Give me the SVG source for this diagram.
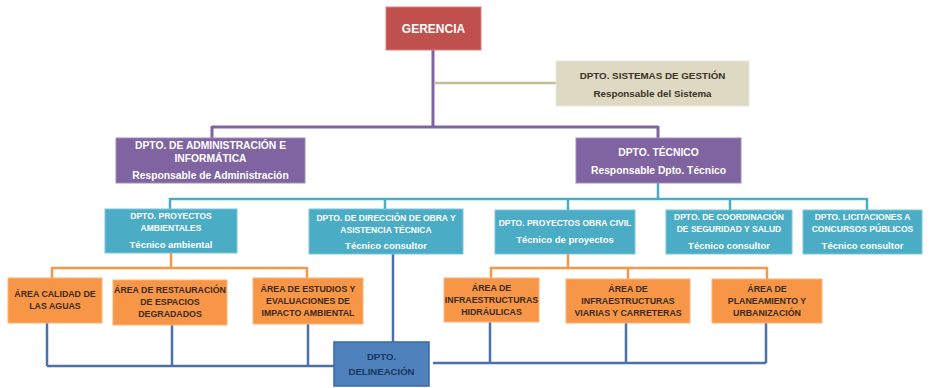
<svg xmlns="http://www.w3.org/2000/svg" width="931" height="388" viewBox="0 0 931 388">
  <style>
    text { font-family: "Liberation Sans", Arial, sans-serif; font-weight: bold; text-anchor: middle; }
    .ger { fill: #c0504d; stroke: #d9807e; stroke-width: 1; }
    .sis { fill: #ddd9c3; stroke: #ebe8da; stroke-width: 1; }
    .pur { fill: #8064a2; stroke: #a08cbc; stroke-width: 1; }
    .cya { fill: #4bacc6; stroke: #7fc6d9; stroke-width: 1; }
    .ora { fill: #f79646; stroke: #fab47f; stroke-width: 1; }
    .blu { fill: #4f81bd; stroke: #3a6aa3; stroke-width: 1.5; }
    .tw { fill: #ffffff; font-size: 8.5px; }
    .tl { fill: #ffffff; font-size: 9.5px; }
    .tp { fill: #ffffff; font-size: 10.3px; }
    .td { fill: #3a3326; font-size: 9.8px; }
    .to { fill: #3b2a1c; font-size: 8.8px; }
    .tb { fill: #17375e; font-size: 9.6px; }
    .lp { stroke: #8064a2; stroke-width: 3; fill: none; }
    .lt { stroke: #c4bd97; stroke-width: 2.5; fill: none; }
    .lc { stroke: #4bacc6; stroke-width: 2.5; fill: none; }
    .lo { stroke: #f79646; stroke-width: 2.5; fill: none; }
    .lb { stroke: #4a72a8; stroke-width: 2.5; fill: none; }
  </style>

  <g id="connectors">
    <!-- gerencia branch -->
    <path class="lp" d="M433,50 V127 M212,127 H658 M212,126 V138 M658,126 V138"/>
    <path class="lt" d="M434,83 H556"/>
    <!-- technical department branch -->
    <path class="lc" d="M658,183 V199 M170,199 H867 M170,198 V209 M385,198 V209 M568,198 V210 M730,198 V210 M867,198 V210"/>
    <!-- project areas -->
    <path class="lo" d="M171,253 V268 M52,268 H307 M52,267 V278 M307,267 V278"/>
    <path class="lo" d="M568,254 V268 M491,268 H767 M491,267 V278 M628,267 V279 M767,267 V279"/>
    <!-- drafting links -->
    <path class="lb" d="M393,254 V342"/>
    <path class="lb" d="M47,323 V366 M172,325 V366 M308,324 V366 M47,366 H334"/>
    <path class="lb" d="M490,322 V363 M626,323 V363 M766,323 V363 M433,363 H766"/>
  </g>

  <g id="gerencia">
    <rect class="ger" x="386" y="7" width="95" height="43"/>
    <text x="433.5" y="33" fill="#ffffff" style="font-size:12px">GERENCIA</text>
  </g>

  <g id="sistemas">
    <rect class="sis" x="556" y="61" width="193" height="45"/>
    <text class="td" x="652.5" y="79">DPTO. SISTEMAS DE GESTIÓN</text>
    <text class="td" x="652.5" y="97">Responsable del Sistema</text>
  </g>

  <g id="administracion">
    <rect class="pur" x="116" y="138" width="189" height="45"/>
    <text class="tp" x="210.5" y="149">DPTO. DE ADMINISTRACIÓN E</text>
    <text class="tp" x="210.5" y="162">INFORMÁTICA</text>
    <text class="tp" x="210.5" y="179">Responsable de Administración</text>
  </g>

  <g id="tecnico">
    <rect class="pur" x="576" y="138" width="165" height="45"/>
    <text class="tp" x="658.5" y="156">DPTO. TÉCNICO</text>
    <text class="tp" x="658.5" y="174">Responsable Dpto. Técnico</text>
  </g>

  <g id="ambientales">
    <rect class="cya" x="105" y="209" width="132" height="44"/>
    <text class="tw" x="171" y="219">DPTO. PROYECTOS</text>
    <text class="tw" x="171" y="231">AMBIENTALES</text>
    <text class="tl" x="171" y="248">Técnico ambiental</text>
  </g>

  <g id="direccion">
    <rect class="cya" x="309" y="209" width="154" height="45"/>
    <text class="tw" x="386" y="221">DPTO. DE DIRECCIÓN DE OBRA Y</text>
    <text class="tw" x="386" y="233">ASISTENCIA TÉCNICA</text>
    <text class="tl" x="386" y="249">Técnico consultor</text>
  </g>

  <g id="obra-civil">
    <rect class="cya" x="495" y="210" width="140" height="44"/>
    <text class="tw" x="565" y="226">DPTO. PROYECTOS OBRA CIVIL</text>
    <text class="tl" x="565" y="243">Técnico de proyectos</text>
  </g>

  <g id="coordinacion">
    <rect class="cya" x="666" y="210" width="126" height="44"/>
    <text class="tw" x="729" y="220">DPTO. DE COORDINACIÓN</text>
    <text class="tw" x="729" y="232">DE SEGURIDAD Y SALUD</text>
    <text class="tl" x="729" y="249">Técnico consultor</text>
  </g>

  <g id="licitaciones">
    <rect class="cya" x="803" y="210" width="119" height="44"/>
    <text class="tw" x="862.5" y="220">DPTO. LICITACIONES A</text>
    <text class="tw" x="862.5" y="232">CONCURSOS PÚBLICOS</text>
    <text class="tl" x="862.5" y="249">Técnico consultor</text>
  </g>

  <g id="calidad-aguas">
    <rect class="ora" x="8" y="278" width="94" height="45"/>
    <text class="to" x="55" y="297">ÁREA CALIDAD DE</text>
    <text class="to" x="55" y="309">LAS AGUAS</text>
  </g>

  <g id="restauracion">
    <rect class="ora" x="113" y="280" width="114" height="45"/>
    <text class="to" x="170" y="293">ÁREA DE RESTAURACIÓN</text>
    <text class="to" x="170" y="305">DE ESPACIOS</text>
    <text class="to" x="170" y="317">DEGRADADOS</text>
  </g>

  <g id="estudios">
    <rect class="ora" x="253" y="278" width="110" height="46"/>
    <text class="to" x="308" y="292">ÁREA DE ESTUDIOS Y</text>
    <text class="to" x="308" y="304">EVALUACIONES DE</text>
    <text class="to" x="308" y="316">IMPACTO AMBIENTAL</text>
  </g>

  <g id="hidraulicas">
    <rect class="ora" x="444" y="278" width="95" height="44"/>
    <text class="to" x="491.5" y="291">ÁREA DE</text>
    <text class="to" x="491.5" y="303">INFRAESTRUCTURAS</text>
    <text class="to" x="491.5" y="315">HIDRÁULICAS</text>
  </g>

  <g id="viarias">
    <rect class="ora" x="566" y="279" width="124" height="44"/>
    <text class="to" x="628" y="292">ÁREA DE</text>
    <text class="to" x="628" y="304">INFRAESTRUCTURAS</text>
    <text class="to" x="628" y="316">VIARIAS Y CARRETERAS</text>
  </g>

  <g id="planeamiento">
    <rect class="ora" x="712" y="279" width="110" height="44"/>
    <text class="to" x="767" y="292">ÁREA DE</text>
    <text class="to" x="767" y="304">PLANEAMIENTO Y</text>
    <text class="to" x="767" y="316">URBANIZACIÓN</text>
  </g>

  <g id="delineacion">
    <rect class="blu" x="334" y="342" width="95" height="44"/>
    <text class="tb" x="381.5" y="360">DPTO.</text>
    <text class="tb" x="381.5" y="375">DELINEACIÓN</text>
  </g>
</svg>
